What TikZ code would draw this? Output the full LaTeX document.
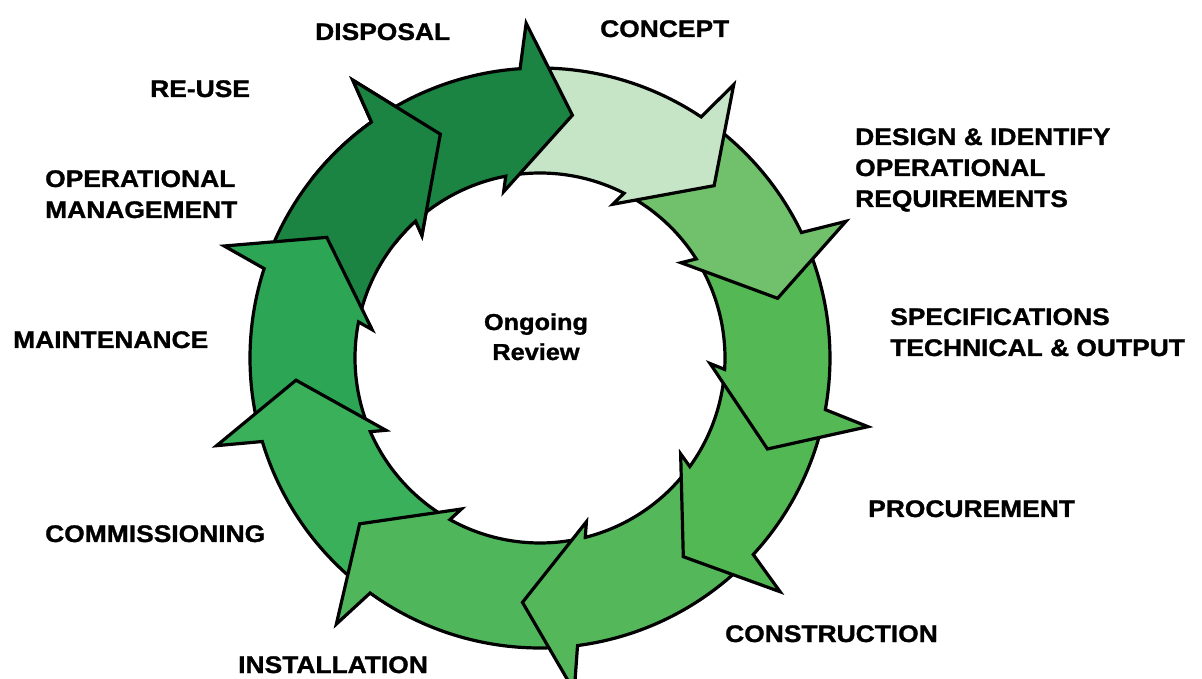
\documentclass[tikz,border=0pt]{standalone}
\usepackage{fontspec}
\setmainfont{Liberation Sans}[FakeStretch=1.1, BoldFeatures={FakeBold=1.2}]
\definecolor{darkg}{RGB}{28,132,66}
\definecolor{lightg}{RGB}{198,228,198}
\definecolor{g3}{RGB}{112,192,108}
\definecolor{g4}{RGB}{84,184,84}
\definecolor{g5}{RGB}{82,184,84}
\definecolor{g6}{RGB}{84,184,90}
\definecolor{g7}{RGB}{80,182,92}
\definecolor{g8}{RGB}{58,176,90}
\definecolor{g9}{RGB}{44,166,84}
% #1 tip angle of previous arrow, #2 tip angle of this arrow, #3 fill colour
\newcommand{\ringarrow}[3]{%
  \pgfmathsetmacro\raA{#1+10.8}%
  \pgfmathsetmacro\raB{#2+11.54}%
  \pgfmathsetmacro\raC{#2+9.97}%
  \pgfmathsetmacro\raD{#2+19.93}%
  \pgfmathsetmacro\raE{#2+18.27}%
  \pgfmathsetmacro\raF{#1+17.1}%
  \filldraw[arrowbody, fill=#3] (\raA:290) arc[start angle=\raA, end angle=\raB, radius=290]
    -- (\raC:335.06) -- (#2:245) -- (\raD:170.2) -- (\raE:185)
    arc[start angle=\raE, end angle=\raF, radius=185] -- cycle;
}
\begin{document}
\begin{tikzpicture}[x=1pt,y=1pt,
  arrowbody/.style={draw=black, line width=3.2pt, line join=miter, miter limit=4},
  lbl/.style={font=\fontsize{24}{31}\selectfont\bfseries, inner sep=0pt, align=left, anchor=base west},
  ctr/.style={font=\fontsize{23}{30}\selectfont\bfseries, inner sep=0pt, align=center, anchor=base}]
\useasboundingbox[fill=white] (-540,-321) rectangle (662,358);
% arrows, drawn so that each head lies over the next tail
\ringarrow{150.5}{114}{darkg}
\ringarrow{-174.8}{-209.5}{g9}
\ringarrow{-137.4}{-174.8}{g8}
\ringarrow{-94.1}{-137.4}{g7}
\ringarrow{-54.2}{-94.1}{g6}
\ringarrow{-21.8}{-54.2}{g5}
\ringarrow{14.1}{-21.8}{g4}
\ringarrow{44.7}{14.1}{g3}
\ringarrow{82.4}{44.7}{lightg}
\ringarrow{114}{82.4}{darkg}
\begin{scope}
  \clip (0,0) -- (106:420) arc[start angle=106, end angle=142, radius=420] -- cycle;
  \ringarrow{150.5}{114}{darkg}
\end{scope}
% labels (multi-line nodes: base anchor is the last line's baseline)
\node[ctr] (review) at (-4,-2) {Ongoing\\Review};
\node[lbl] (disposal) at (-225,318) {DISPOSAL};
\node[lbl] (concept) at (60,321) {CONCEPT};
\node[lbl] (reuse) at (-390,261) {RE-USE};
\node[lbl] (opman) at (-495,140) {OPERATIONAL\\MANAGEMENT};
\node[lbl] (design) at (315,151) {DESIGN \& IDENTIFY\\OPERATIONAL\\REQUIREMENTS};
\node[lbl] (spec) at (350,2) {SPECIFICATIONS\\TECHNICAL \& OUTPUT};
\node[lbl] (maint) at (-527,10) {MAINTENANCE};
\node[lbl] (procure) at (328,-159) {PROCUREMENT};
\node[lbl] (commis) at (-495,-184) {COMMISSIONING};
\node[lbl] (constr) at (185,-284) {CONSTRUCTION};
\node[lbl] (install) at (-302,-315) {INSTALLATION};
\end{tikzpicture}
\end{document}
